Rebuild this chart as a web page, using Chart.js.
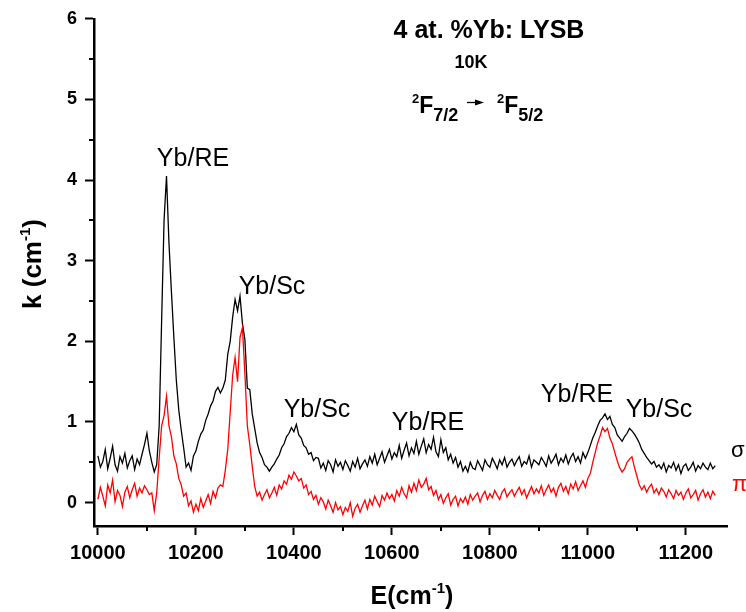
<!DOCTYPE html>
<html>
<head>
<meta charset="utf-8">
<script src="https://cdn.jsdelivr.net/npm/chart.js@4.4.0/dist/chart.umd.min.js"></script>
<style>
  html, body { margin: 0; padding: 0; background: #fff; }
  #wrap { width: 746px; height: 612px; }
</style>
</head>
<body>
<div id="wrap"><canvas id="chart" width="746" height="612"></canvas></div>
<script>
// Absorption spectra of 4 at.% Yb:LYSB at 10K, sigma and pi polarisation
// sampling grid of the spectra (cm-1)
const E_START = 10000;
const E_STEP = 5;

// k (cm-1), sigma polarisation, one row = 50 cm-1
const sigmaK = [
  0.58, 0.44, 0.51, 0.66, 0.42, 0.55, 0.70, 0.47, 0.39, 0.57,
  0.49, 0.61, 0.43, 0.52, 0.58, 0.41, 0.54, 0.47, 0.60, 0.72,
  0.86, 0.64, 0.50, 0.38, 0.47, 0.95, 2.25, 3.50, 4.05, 3.22,
  2.62, 2.05, 1.52, 1.15, 0.90, 0.68, 0.44, 0.49, 0.40, 0.58,
  0.64, 0.76, 0.85, 0.90, 1.02, 1.10, 1.20, 1.26, 1.38, 1.43,
  1.36, 1.42, 1.52, 1.84, 2.00, 2.30, 2.52, 2.38, 2.56, 2.22,
  2.02, 1.42, 1.40, 1.10, 0.92, 0.74, 0.62, 0.56, 0.47, 0.44,
  0.39, 0.44, 0.48, 0.54, 0.59, 0.68, 0.73, 0.82, 0.86, 0.93,
  0.88, 0.97, 0.84, 0.80, 0.71, 0.68, 0.60, 0.62, 0.52, 0.56,
  0.55, 0.43, 0.49, 0.40, 0.52, 0.47, 0.38, 0.53, 0.45, 0.50,
  0.41, 0.52, 0.46, 0.39, 0.51, 0.44, 0.55, 0.42, 0.48, 0.53,
  0.45, 0.57, 0.49, 0.60, 0.47, 0.55, 0.63, 0.50, 0.58, 0.66,
  0.54, 0.62, 0.57, 0.71, 0.55, 0.65, 0.74, 0.58, 0.68, 0.61,
  0.76, 0.60, 0.70, 0.79, 0.62, 0.72, 0.66, 0.81, 0.63, 0.57,
  0.78, 0.62, 0.68, 0.53, 0.60, 0.49, 0.56, 0.44, 0.51, 0.39,
  0.45, 0.38, 0.50, 0.43, 0.41, 0.52, 0.46, 0.40, 0.53, 0.47,
  0.44, 0.55, 0.49, 0.42, 0.53, 0.47, 0.56, 0.44, 0.50, 0.54,
  0.46, 0.52, 0.57, 0.45, 0.51, 0.48, 0.58, 0.44, 0.53, 0.50,
  0.47, 0.56, 0.51, 0.45, 0.58, 0.49, 0.54, 0.60, 0.47, 0.55,
  0.50, 0.59, 0.48, 0.56, 0.61, 0.51, 0.57, 0.49, 0.62, 0.55,
  0.62, 0.71, 0.80, 0.87, 0.95, 1.02, 1.05, 1.10, 1.03, 1.07,
  0.97, 0.93, 0.84, 0.80, 0.76, 0.82, 0.86, 0.92, 0.89, 0.85,
  0.80, 0.74, 0.66, 0.61, 0.56, 0.52, 0.48, 0.51, 0.44, 0.47,
  0.42, 0.49, 0.38, 0.46, 0.43, 0.50, 0.40, 0.47, 0.36, 0.45,
  0.48, 0.40, 0.44, 0.50, 0.39, 0.46, 0.42, 0.49, 0.44, 0.41,
  0.49, 0.42, 0.46
];

// k (cm-1), pi polarisation
const piK = [
  0.04, 0.19, 0.08, -0.04, 0.22, 0.12, 0.28, 0.01, 0.15, 0.09,
  -0.05, 0.13, 0.20, 0.06, 0.16, 0.24, 0.08, 0.18, 0.12, 0.21,
  0.16, 0.10, 0.12, -0.10, 0.12, 0.55, 0.95, 1.08, 1.32, 0.95,
  0.82, 0.58, 0.48, 0.30, 0.22, 0.08, 0.12, -0.04, 0.02, -0.12,
  -0.02, -0.10, 0.05, -0.06, 0.02, 0.10, -0.01, 0.14, 0.06, 0.18,
  0.22, 0.20, 0.40, 0.66, 1.12, 1.58, 1.80, 1.50, 2.05, 2.17,
  1.60, 0.95, 0.72, 0.45, 0.20, 0.08, 0.13, 0.03, 0.10, 0.16,
  0.06, 0.12, 0.19, 0.09, 0.22, 0.17, 0.27, 0.23, 0.34, 0.29,
  0.38, 0.33, 0.27, 0.30, 0.18, 0.22, 0.10, 0.14, 0.04, 0.09,
  -0.02, 0.06, 0.01, -0.08, 0.03, -0.04, -0.12, 0.00, -0.09, -0.05,
  -0.15, -0.06, -0.11, 0.00, -0.17, -0.07, -0.02, -0.12, -0.04, 0.03,
  -0.08, 0.04, -0.03, 0.08, 0.01, -0.05, 0.09, 0.03, 0.12, 0.05,
  0.10, 0.02, 0.15, 0.08, 0.19, 0.11, 0.06, 0.21, 0.13, 0.24,
  0.15, 0.28, 0.19, 0.23, 0.30, 0.16, 0.20, 0.09, 0.15, 0.04,
  0.10, -0.01, 0.06, 0.11, -0.03, 0.04, 0.08, -0.04, 0.05, 0.00,
  0.07, -0.02, 0.10, 0.03, 0.08, 0.12, 0.01, 0.09, 0.14, 0.04,
  0.11, 0.06, 0.15, 0.09, 0.04, 0.13, 0.17, 0.07, 0.12, 0.16,
  0.08, 0.14, 0.19, 0.10, 0.16, 0.06, 0.13, 0.20, 0.11, 0.17,
  0.12, 0.21, 0.09, 0.16, 0.22, 0.13, 0.18, 0.08, 0.19, 0.24,
  0.14, 0.20, 0.11, 0.23, 0.17, 0.26, 0.15, 0.21, 0.27, 0.19,
  0.30, 0.36, 0.50, 0.62, 0.74, 0.83, 0.93, 0.88, 0.92, 0.80,
  0.73, 0.62, 0.52, 0.43, 0.38, 0.42, 0.50, 0.54, 0.57, 0.44,
  0.33, 0.22, 0.16, 0.21, 0.13, 0.19, 0.23, 0.12, 0.17, 0.10,
  0.18, 0.14, 0.07, 0.16, 0.11, 0.05, 0.15, 0.09, 0.13, 0.04,
  0.12, 0.17, 0.06, 0.10, 0.15, 0.03, 0.11, 0.16, 0.07, 0.13,
  0.05, 0.14, 0.09
];

const xTicks = [10000, 10200, 10400, 10600, 10800, 11000, 11200];
const xMinorTicks = [10100, 10300, 10500, 10700, 10900, 11100];
const yTicks = [0, 1, 2, 3, 4, 5, 6];
const yMinorTicks = [0.5, 1.5, 2.5, 3.5, 4.5, 5.5];

const FONT = 'Arial, "Liberation Sans", sans-serif';

function toPoints(values) {
  return values.map((k, i) => ({ x: E_START + i * E_STEP, y: k }));
}

// draws a run of text pieces (normal / super / subscript) side by side
function drawRich(ctx, parts, x, y, align) {
  let total = 0;
  parts.forEach(p => {
    ctx.font = (p.bold ? 'bold ' : '') + p.size + 'px ' + FONT;
    p.w = ctx.measureText(p.t).width;
    total += p.w;
  });
  let cx = x;
  if (align === 'center') cx = x - total / 2;
  if (align === 'right') cx = x - total;
  ctx.textAlign = 'left';
  ctx.textBaseline = 'alphabetic';
  parts.forEach(p => {
    ctx.font = (p.bold ? 'bold ' : '') + p.size + 'px ' + FONT;
    ctx.fillStyle = p.color || '#000';
    ctx.fillText(p.t, cx, y + (p.dy || 0));
    cx += p.w;
  });
  return cx;
}

const annotations = {
  id: 'annotations',
  afterDraw(chart) {
    const ctx = chart.ctx;
    const area = chart.chartArea;
    const xs = chart.scales.x;
    const ys = chart.scales.y;

    // minor ticks
    ctx.save();
    ctx.strokeStyle = '#000';
    ctx.lineWidth = 2;
    xMinorTicks.forEach(v => {
      const px = Math.round(xs.getPixelForValue(v));
      ctx.beginPath();
      ctx.moveTo(px, area.bottom);
      ctx.lineTo(px, area.bottom + 5);
      ctx.stroke();
    });
    yMinorTicks.forEach(v => {
      const py = Math.round(ys.getPixelForValue(v));
      ctx.beginPath();
      ctx.moveTo(area.left - 5, py);
      ctx.lineTo(area.left, py);
      ctx.stroke();
    });
    ctx.restore();

    ctx.save();
    // header
    drawRich(ctx, [{ t: '4 at. %Yb: LYSB', size: 25, bold: true }], 489, 38, 'center');
    drawRich(ctx, [{ t: '10K', size: 18, bold: true }], 471, 68, 'center');
    drawRich(ctx, [
      { t: '2', size: 13, bold: true, dy: -10 },
      { t: 'F', size: 23, bold: true },
      { t: '7/2', size: 18, bold: true, dy: 8 }
    ], 412, 113, 'left');
    // small arrow
    ctx.strokeStyle = '#000';
    ctx.lineWidth = 1.3;
    ctx.beginPath();
    ctx.moveTo(467, 102.5);
    ctx.lineTo(478, 102.5);
    ctx.stroke();
    ctx.fillStyle = '#000';
    ctx.beginPath();
    ctx.moveTo(484, 102.5);
    ctx.lineTo(475, 99.5);
    ctx.lineTo(475, 105.5);
    ctx.closePath();
    ctx.fill();
    drawRich(ctx, [
      { t: '2', size: 13, bold: true, dy: -10 },
      { t: 'F', size: 23, bold: true },
      { t: '5/2', size: 18, bold: true, dy: 8 }
    ], 497, 113, 'left');

    // peak assignments
    const peakFont = 25;
    drawRich(ctx, [{ t: 'Yb/RE', size: peakFont }], 193, 166, 'center');
    drawRich(ctx, [{ t: 'Yb/Sc', size: peakFont }], 272, 294, 'center');
    drawRich(ctx, [{ t: 'Yb/Sc', size: peakFont }], 317, 417, 'center');
    drawRich(ctx, [{ t: 'Yb/RE', size: peakFont }], 428, 430, 'center');
    drawRich(ctx, [{ t: 'Yb/RE', size: peakFont }], 577, 402, 'center');
    drawRich(ctx, [{ t: 'Yb/Sc', size: peakFont }], 659, 417, 'center');

    // curve names
    drawRich(ctx, [{ t: 'σ', size: 22 }], 731, 457, 'left');
    drawRich(ctx, [{ t: 'π', size: 22, color: '#ff0000' }], 732, 491, 'left');

    // axis titles
    drawRich(ctx, [
      { t: 'E(cm', size: 25, bold: true },
      { t: '-1', size: 15, bold: true, dy: -11 },
      { t: ')', size: 25, bold: true }
    ], 412, 604, 'center');

    ctx.translate(41, 264);
    ctx.rotate(-Math.PI / 2);
    drawRich(ctx, [
      { t: 'k (cm', size: 26, bold: true },
      { t: '-1', size: 15, bold: true, dy: -11 },
      { t: ')', size: 26, bold: true }
    ], 0, 0, 'center');
    ctx.restore();
  }
};

new Chart(document.getElementById('chart'), {
  type: 'line',
  data: {
    datasets: [
      {
        label: 'π',
        data: toPoints(piK),
        borderColor: '#ff0000',
        borderWidth: 1.3
      },
      {
        label: 'σ',
        data: toPoints(sigmaK),
        borderColor: '#000000',
        borderWidth: 1.3
      }
    ]
  },
  options: {
    responsive: false,
    animation: false,
    devicePixelRatio: 1,
    layout: { padding: { left: 0, top: 16, right: 19, bottom: 0 } },
    elements: {
      point: { radius: 0 },
      line: { tension: 0 }
    },
    plugins: {
      legend: { display: false },
      tooltip: { enabled: false }
    },
    scales: {
      x: {
        type: 'linear',
        min: 9992,
        max: 11284,
        afterBuildTicks: s => { s.ticks = xTicks.map(v => ({ value: v })); },
        afterFit: s => { s.height = 86; },
        grid: {
          display: true,
          drawOnChartArea: false,
          drawTicks: true,
          tickLength: 9,
          tickWidth: 2,
          tickColor: '#000'
        },
        border: { display: true, color: '#000', width: 2.5 },
        ticks: {
          color: '#000',
          padding: 6,
          maxRotation: 0,
          autoSkip: false,
          font: { family: FONT, size: 20, weight: 'bold' },
          callback: v => String(v)
        }
      },
      y: {
        type: 'linear',
        min: -0.29,
        max: 6,
        afterBuildTicks: s => { s.ticks = yTicks.map(v => ({ value: v })); },
        afterFit: s => { s.width = 94; },
        grid: {
          display: true,
          drawOnChartArea: false,
          drawTicks: true,
          tickLength: 9,
          tickWidth: 2,
          tickColor: '#000'
        },
        border: { display: true, color: '#000', width: 2.5 },
        ticks: {
          color: '#000',
          padding: 8,
          font: { family: FONT, size: 18, weight: 'bold' },
          callback: v => String(v)
        }
      }
    }
  },
  plugins: [annotations]
});
</script>
</body>
</html>
